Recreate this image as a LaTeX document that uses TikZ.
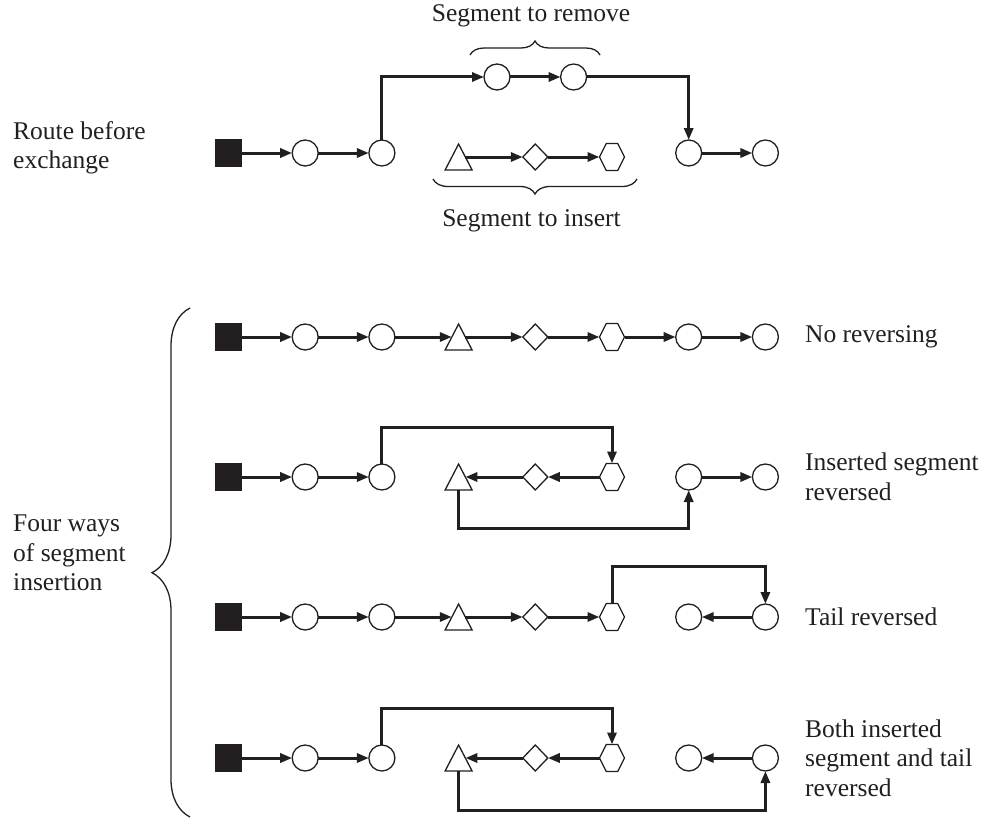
\documentclass[tikz,border=0pt]{standalone}
\usepackage{fontspec}
\setmainfont{Liberation Serif}
\usetikzlibrary{shapes.geometric,arrows.meta,decorations.pathreplacing,calc}
\definecolor{ink}{HTML}{231F20}
\begin{document}
\begin{tikzpicture}[x=1pt,y=-1pt, font=\fontsize{25.5}{29.5}\selectfont, text=ink,
  shp/.style={draw=ink, line width=1.3pt, inner sep=0pt, outer sep=0pt, fill=white},
  sqn/.style={shp, rectangle, fill=ink, minimum size=26pt},
  crn/.style={shp, circle, minimum size=26pt},
  trn/.style={rectangle, inner sep=0pt, outer sep=0pt, minimum width=27pt, minimum height=26pt},
  dmn/.style={shp, diamond, minimum width=25pt, minimum height=26pt},
  hxn/.style={rectangle, inner sep=0pt, outer sep=0pt, minimum width=25pt, minimum height=27pt},
  figline/.style={draw=ink, line width=1.3pt, fill=white, line join=miter},
  route/.style={draw=ink, line width=3pt, -{Triangle[length=12pt,width=9pt]}},
  brc/.style={draw=ink, line width=1.3pt, decorate},
  lbl/.style={anchor=west, align=left, inner sep=0pt},
]
\useasboundingbox (0,0) rectangle (984,824);

% ---------- Route before exchange ----------
\node[lbl] (lroute) at (13,148) {Route before\\exchange};
\node[sqn] (a0) at (228.5,153) {};
\node[crn] (a1) at (305.2,153) {};
\node[crn] (a2) at (381.9,153) {};
\node[crn] (u1) at (497,77) {};
\node[crn] (u2) at (573.6,77) {};
\node[crn] (a6) at (688.7,153) {};
\node[crn] (a7) at (765.4,153) {};
\node[trn] (b1) at (458.6,157) {};
\node[dmn] (b2) at (535.3,157) {};
\node[hxn] (b3) at (612.0,157) {};

% ---------- Four rows ----------
\foreach \r/\y in {1/337,2/477,3/617,4/758} {
  \node[sqn] (r\r s) at (228.5,\y) {};
  \node[crn] (r\r c1) at (305.2,\y) {};
  \node[crn] (r\r c2) at (381.9,\y) {};
  \node[trn] (r\r t) at (458.6,\y) {};
  \node[dmn] (r\r d) at (535.3,\y) {};
  \node[hxn] (r\r h) at (612.0,\y) {};
  \node[crn] (r\r c6) at (688.7,\y) {};
  \node[crn] (r\r c7) at (765.4,\y) {};
}

% hexagons and triangles
\foreach \h in {b3,r1h,r2h,r3h,r4h} {
  \path[figline] (\h.west) -- ($(\h.north west)!.27!(\h.north east)$) -- ($(\h.north west)!.73!(\h.north east)$)
    -- (\h.east) -- ($(\h.south west)!.73!(\h.south east)$) -- ($(\h.south west)!.27!(\h.south east)$) -- cycle;
}
\foreach \t in {b1,r1t,r2t,r3t,r4t} {
  \path[figline] (\t.south west) -- (\t.north) -- (\t.south east) -- cycle;
  \coordinate (\t L) at ($(\t.west)!.25!(\t.east)$);
  \coordinate (\t R) at ($(\t.west)!.75!(\t.east)$);
}

% top route
\draw[route] (a0) -- (a1);
\draw[route] (a1) -- (a2);
\draw[route] (a2.north) |- (u1);
\draw[route] (u1) -- (u2);
\draw[route] (u2) -| (a6.north);
\draw[route] (a6) -- (a7);
\draw[route] (b1R) -- (b2);
\draw[route] (b2) -- (b3.west);

\draw[brc, decoration={brace, amplitude=14pt}] (470,55) -- (600,55);
\node (tremove) at (531,16) {Segment to remove};
\draw[brc, decoration={brace, amplitude=15pt}] (637,179) -- (433,179);
\node (tinsert) at (531.5,221) {Segment to insert};

% row 1: no reversing
\draw[route] (r1s) -- (r1c1);
\draw[route] (r1c1) -- (r1c2);
\draw[route] (r1c2) -- (r1tL);
\draw[route] (r1tR) -- (r1d);
\draw[route] (r1d) -- (r1h.west);
\draw[route] (r1h.east) -- (r1c6);
\draw[route] (r1c6) -- (r1c7);

% row 2: inserted segment reversed
\draw[route] (r2s) -- (r2c1);
\draw[route] (r2c1) -- (r2c2);
\draw[route] (r2c2.north) -- ++(0,-37) -| (r2h.north);
\draw[route] (r2h.west) -- (r2d);
\draw[route] (r2d) -- (r2tR);
\draw[route] (r2t.south) -- ++(0,38) -| (r2c6.south);
\draw[route] (r2c6) -- (r2c7);

% row 3: tail reversed
\draw[route] (r3s) -- (r3c1);
\draw[route] (r3c1) -- (r3c2);
\draw[route] (r3c2) -- (r3tL);
\draw[route] (r3tR) -- (r3d);
\draw[route] (r3d) -- (r3h.west);
\draw[route] (r3h.north) -- ++(0,-37) -| (r3c7.north);
\draw[route] (r3c7) -- (r3c6);

% row 4: both reversed
\draw[route] (r4s) -- (r4c1);
\draw[route] (r4c1) -- (r4c2);
\draw[route] (r4c2.north) -- ++(0,-37) -| (r4h.north);
\draw[route] (r4h.west) -- (r4d);
\draw[route] (r4d) -- (r4tR);
\draw[route] (r4t.south) -- ++(0,39) -| (r4c7.south);
\draw[route] (r4c7) -- (r4c6);

% labels
\node[lbl] (l1) at (805,337) {No reversing};
\node[lbl] (l2) at (805,477) {Inserted segment\\reversed};
\node[lbl] (l3) at (805,617) {Tail reversed};
\node[lbl] (l4) at (805,758) {Both inserted\\segment and tail\\reversed};

\draw[brc, decoration={brace, amplitude=38pt, aspect=0.48}] (190,817) -- (190,308);
\node[lbl] (lfour) at (13,553) {Four ways\\of segment\\insertion};
\end{tikzpicture}
\end{document}
